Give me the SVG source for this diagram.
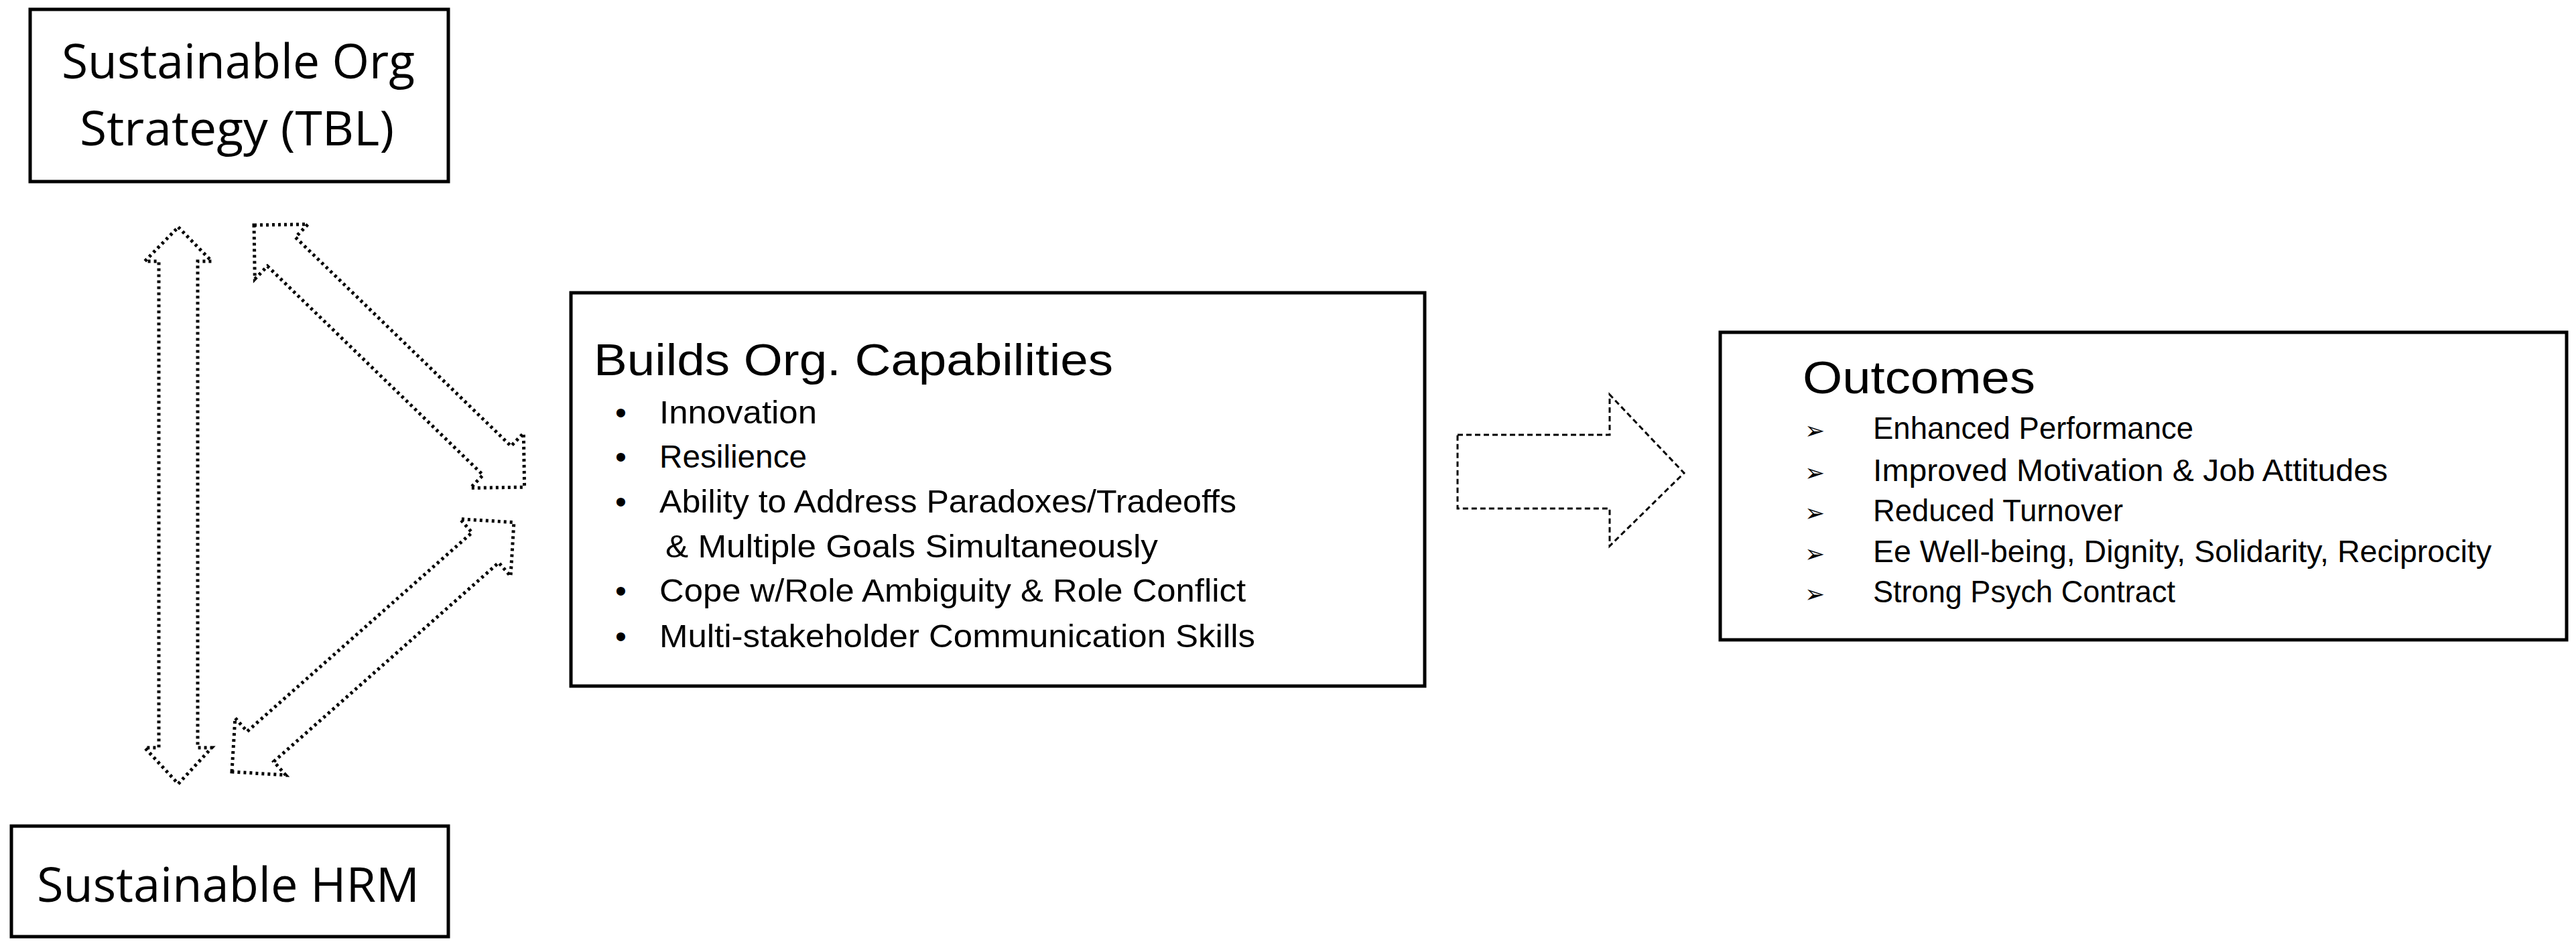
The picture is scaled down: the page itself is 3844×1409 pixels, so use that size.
<svg xmlns="http://www.w3.org/2000/svg" width="3844" height="1409" viewBox="0 0 3844 1409">
<style>
.box{fill:#fff;stroke:#000;stroke-width:5}
.big{font-family:"Open Sans","Liberation Sans",sans-serif;font-size:72px;fill:#000}
.t{font-family:"Liberation Sans",sans-serif;fill:#000}
.dot{fill:#fff;stroke:#000;stroke-width:5;stroke-dasharray:4 5}
.dash{fill:#fff;stroke:#000;stroke-width:3;stroke-dasharray:8 5}
</style>
<defs>
<polygon id="dbl" points="0,0 57,-57 57,-30 505,-30 505,-57 562,0 505,57 505,30 57,30 57,57"/>
</defs>
<rect width="3844" height="1409" fill="#fff"/>
<g id="strategy">
<rect class="box" x="45" y="14" width="624" height="257"/>
<text class="big" x="92" y="117" textLength="527" lengthAdjust="spacingAndGlyphs">Sustainable Org</text>
<text class="big" x="119" y="217" textLength="469" lengthAdjust="spacingAndGlyphs">Strategy (TBL)</text>
</g>
<g id="hrm">
<rect class="box" x="17" y="1233" width="652" height="165"/>
<text class="big" x="55" y="1346" textLength="571" lengthAdjust="spacingAndGlyphs">Sustainable HRM</text>
</g>
<g id="capabilities">
<rect class="box" x="852" y="437" width="1274" height="587"/>
<text class="t" x="886" y="560" font-size="66" textLength="775" lengthAdjust="spacingAndGlyphs">Builds Org. Capabilities</text>
<g font-size="48" class="t">
<text x="918" y="632">•</text><text x="984" y="632" textLength="235" lengthAdjust="spacingAndGlyphs">Innovation</text>
<text x="918" y="698">•</text><text x="984" y="698" textLength="220" lengthAdjust="spacingAndGlyphs">Resilience</text>
<text x="918" y="765">•</text><text x="984" y="765" textLength="861" lengthAdjust="spacingAndGlyphs">Ability to Address Paradoxes/Tradeoffs</text>
<text x="993" y="832" textLength="735" lengthAdjust="spacingAndGlyphs">&amp; Multiple Goals Simultaneously</text>
<text x="918" y="898">•</text><text x="984" y="898" textLength="875" lengthAdjust="spacingAndGlyphs">Cope w/Role Ambiguity &amp; Role Conflict</text>
<text x="918" y="966">•</text><text x="984" y="966" textLength="889" lengthAdjust="spacingAndGlyphs">Multi-stakeholder Communication Skills</text>
</g>
</g>
<g id="outcomes">
<rect class="box" x="2567" y="496" width="1263" height="459"/>
<text class="t" x="2690" y="587" font-size="68" textLength="347" lengthAdjust="spacingAndGlyphs">Outcomes</text>
<g class="t" font-size="46">
<text x="2693" y="655" font-family="DejaVu Sans" font-size="36">➢</text><text x="2795" y="655" textLength="478" lengthAdjust="spacingAndGlyphs">Enhanced Performance</text>
<text x="2693" y="718" font-family="DejaVu Sans" font-size="36">➢</text><text x="2795" y="718" textLength="768" lengthAdjust="spacingAndGlyphs">Improved Motivation &amp; Job Attitudes</text>
<text x="2693" y="778" font-family="DejaVu Sans" font-size="36">➢</text><text x="2795" y="778" textLength="373" lengthAdjust="spacingAndGlyphs">Reduced Turnover</text>
<text x="2693" y="839" font-family="DejaVu Sans" font-size="36">➢</text><text x="2795" y="839" textLength="923" lengthAdjust="spacingAndGlyphs">Ee Well-being, Dignity, Solidarity, Reciprocity</text>
<text x="2693" y="899" font-family="DejaVu Sans" font-size="36">➢</text><text x="2795" y="899" textLength="451" lengthAdjust="spacingAndGlyphs">Strong Psych Contract</text>
</g>
</g>
<g id="connectors">
<polygon class="dot" points="266,339 316,390 295,390 295,1116 316,1116 266,1170 216,1116 237,1116 237,390 216,390"/>
<use href="#dbl" class="dot" transform="translate(379,336) rotate(44.1)"/>
<use href="#dbl" class="dot" transform="translate(346,1152) rotate(-41.5)"/>
<polygon class="dash" points="2175,649 2402,649 2402,589 2513,706 2402,815 2402,759 2175,759"/>
</g>
</svg>
